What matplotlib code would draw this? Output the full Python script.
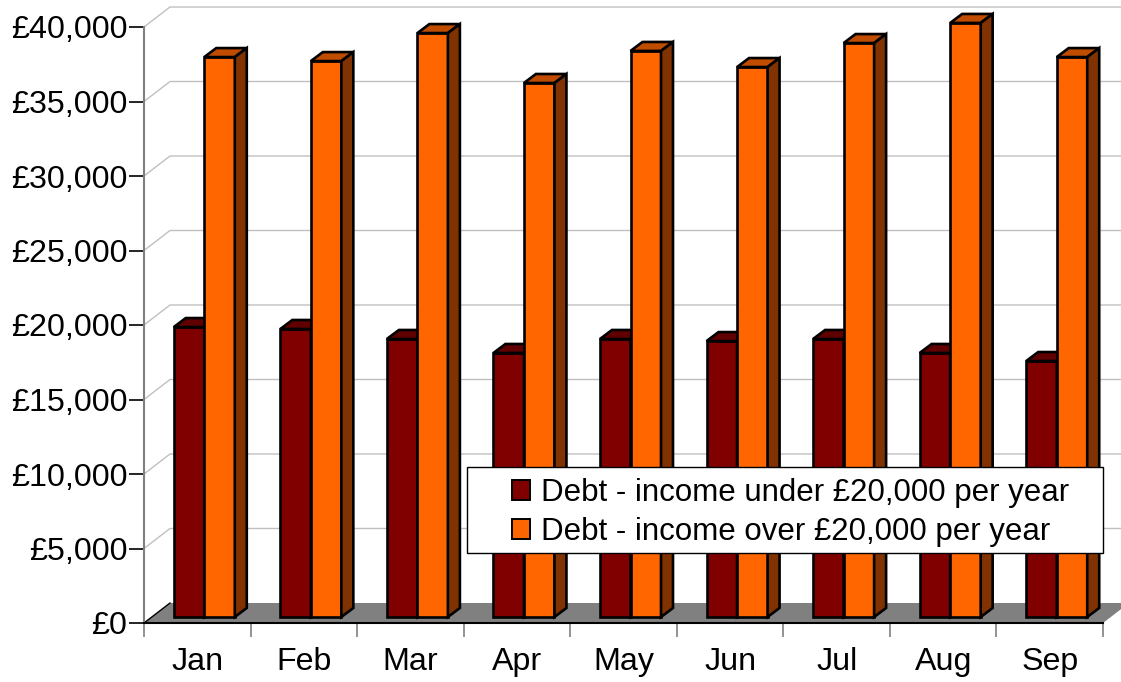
import numpy as np
import matplotlib
matplotlib.use('Agg')
import matplotlib.pyplot as plt
from matplotlib.patches import Polygon, Patch, Rectangle
from matplotlib.ticker import FuncFormatter

months = ['Jan', 'Feb', 'Mar', 'Apr', 'May', 'Jun', 'Jul', 'Aug', 'Sep']
debt_under = [19460, 19330, 18660, 17720, 18660, 18520, 18660, 17720, 17180]
debt_over = [37580, 37310, 39190, 35840, 37990, 36910, 38520, 39870, 37580]

W, H = 1121, 682
plt.rcParams['font.family'] = ['Liberation Sans', 'DejaVu Sans']

fig = plt.figure(figsize=(W / 100, H / 100), dpi=100)
ax = fig.add_axes([144 / W, 1 - 623 / H, (1103 - 144) / W, (623 - 27) / H])
ax.set_xlim(0, len(months))
ax.set_ylim(0, 40000)

# pixels to data units, the fake 3d depth is given in pixels
px = len(months) / (1103 - 144)
py = 40000 / (623 - 27)
wall_dx, wall_dy = 26 * px, 20 * py
bar_dx, bar_dy = 12 * px, 9 * py
base_dx, base_dy = 7 * px, 6 * py
bar_w = 30.5 * px

for s in ['top', 'right']:
    ax.spines[s].set_visible(False)
ax.spines['left'].set_color('#808080')
ax.spines['left'].set_linewidth(1.5)
ax.spines['bottom'].set_color('black')
ax.spines['bottom'].set_linewidth(1.5)
ax.spines['bottom'].set_zorder(2.5)

# back wall gridlines and the diagonals down to the axis
for v in range(5000, 45000, 5000):
    ax.plot([0, wall_dx, 9 + wall_dx], [v, v + wall_dy, v + wall_dy],
            color='#c0c0c0', lw=1, clip_on=False, zorder=1)

# floor
ax.add_patch(Polygon([(0, 0), (wall_dx, wall_dy), (9 + wall_dx, wall_dy), (9, 0)],
                     facecolor='#808080', edgecolor='none', clip_on=False, zorder=1.5))
ax.plot([0, wall_dx], [0, wall_dy], color='black', lw=1, zorder=1.6, clip_on=False)


def draw_bars(left, values, face, top, side):
    ax.bar(left, values, bar_w, bottom=base_dy, align='edge', color=face,
           edgecolor='black', linewidth=1.9, zorder=3, clip_on=False)
    for x, v in zip(left, values):
        y = v + base_dy
        ax.add_patch(Polygon([(x, y), (x + bar_dx, y + bar_dy),
                              (x + bar_w + bar_dx, y + bar_dy), (x + bar_w, y)],
                             facecolor=top, edgecolor='black', linewidth=1.9,
                             clip_on=False, zorder=3))
        ax.add_patch(Polygon([(x + bar_w, base_dy), (x + bar_w + bar_dx, base_dy + bar_dy),
                              (x + bar_w + bar_dx, y + bar_dy), (x + bar_w, y)],
                             facecolor=side, edgecolor='black', linewidth=1.9,
                             clip_on=False, zorder=3))


pos = np.arange(len(months))
draw_bars(pos + base_dx + 0.5 - bar_w, debt_under, '#800000', '#600000', '#400000')
draw_bars(pos + base_dx + 0.5, debt_over, '#ff6600', '#c04c00', '#803300')

ax.set_yticks(np.arange(0, 45000, 5000))
ax.yaxis.set_major_formatter(FuncFormatter(lambda v, _: '£{:,.0f}'.format(v)))
ax.tick_params(axis='y', length=11, width=1.2, color='black', labelsize=23.2, pad=1)

ax.set_xticks(np.arange(len(months) + 1))
ax.set_xticklabels([''] * (len(months) + 1))
ax.tick_params(axis='x', length=10, width=1.2, color='#808080')
for i, m in enumerate(months):
    ax.annotate(m, (i + 0.5, 0), xytext=(0, -39), textcoords='offset pixels',
                ha='center', va='center', fontsize=23.2, annotation_clip=False)

# legend box is drawn on its own so the entries can sit well inside it
ax.add_patch(Rectangle((323.5 * px, 70 * py), 636 * px, 86 * py, facecolor='white',
                       edgecolor='black', linewidth=1, clip_on=False, zorder=4.9))

handles = [Patch(facecolor='#800000', edgecolor='black', linewidth=1.4),
           Patch(facecolor='#ff6600', edgecolor='black', linewidth=1.4)]
leg = ax.legend(handles, ['Debt - income under £20,000 per year',
                          'Debt - income over £20,000 per year'],
                loc='center left',
                bbox_to_anchor=((511.5 - 144) / (1103 - 144), (623 - 512.5) / (623 - 27)),
                fontsize=22.5, frameon=False, borderaxespad=0, borderpad=0,
                handlelength=0.58, handleheight=0.58, handletextpad=0.36,
                labelspacing=0.28)
leg.set_zorder(5)

fig.savefig('out.png', dpi=100)
